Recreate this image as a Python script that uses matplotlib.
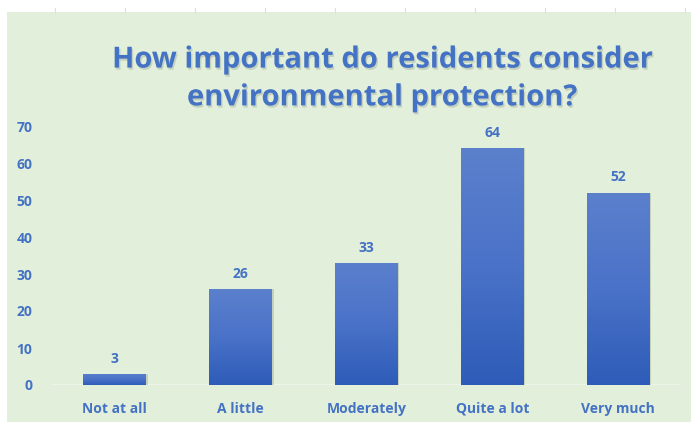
import matplotlib
matplotlib.use('Agg')
import matplotlib.pyplot as plt
import matplotlib.patheffects as pe
from matplotlib.colors import LinearSegmentedColormap
import numpy as np

categories = ['Not at all', 'A little', 'Moderately', 'Quite a lot', 'Very much']
responses = [3, 26, 33, 64, 52]
y_ticks = [0, 10, 20, 30, 40, 50, 60, 70]
title = 'How important do residents consider\nenvironmental protection?'

text_blue = '#4472c4'
panel_green = '#e2efda'

plt.rcParams['font.family'] = ['Open Sans', 'DejaVu Sans']

fig = plt.figure(figsize=(6.91, 4.22), dpi=100)
fig.patch.set_facecolor('white')

# green panel under the chart (white strip on top and left)
panel = plt.Rectangle((7 / 691, 0), 1, 1 - 12 / 422, transform=fig.transFigure,
                      facecolor=panel_green, edgecolor='none', zorder=-5)
fig.add_artist(panel)
# small ruler marks on the top strip
for px in range(55, 691, 70):
    fig.add_artist(plt.Line2D([px / 691, px / 691], [1 - 12 / 422, 1 - 8 / 422],
                              transform=fig.transFigure, color='#dddddd', lw=0.8))

ax = fig.add_axes([52 / 691, 37 / 422, 629 / 691, 259 / 422])
ax.set_facecolor('none')
ax.set_zorder(1)
x = np.arange(len(categories))

# faint gridlines
for t in y_ticks[1:]:
    ax.axhline(t, color='#e5f1df', lw=0.7, zorder=1)
ax.axhline(0, color='#f0f6ec', lw=1.2, zorder=1)

# gradient bars with a soft shadow
grad = np.linspace(0, 1, 256).reshape(-1, 1)
cmap = LinearSegmentedColormap.from_list('barblue', ['#2e5cb8', '#4a72c8', '#5b80cc'])
bars = ax.bar(x, responses, width=0.5, color='none', edgecolor='none', zorder=3)
for b in bars:
    x0, y0 = b.get_x(), b.get_y()
    w, h = b.get_width(), b.get_height()
    shadow = plt.Rectangle((x0 + 0.012, y0), w, h, facecolor='#7d8c7b', alpha=0.3,
                           edgecolor='none', zorder=2)
    ax.add_patch(shadow)
    im = ax.imshow(grad, extent=(x0, x0 + w, y0, y0 + h), origin='lower',
                   cmap=cmap, aspect='auto', zorder=3)
    im.set_clip_path(b)
ax.set_xlim(-0.5, len(categories) - 0.5)
ax.set_ylim(0, 70)

for xi, v in zip(x, responses):
    ax.text(xi, v + 2.2, str(v), ha='center', va='bottom', fontsize=10,
            fontweight='bold', color=text_blue, zorder=4)

ax.set_yticks(y_ticks)
ax.set_yticklabels([str(t) for t in y_ticks])
ax.set_xticks(x)
ax.set_xticklabels(categories)
ax.tick_params(axis='both', length=0, labelsize=10, labelcolor=text_blue)
ax.tick_params(axis='y', pad=14)
ax.tick_params(axis='x', pad=12)
for lbl in ax.get_xticklabels() + ax.get_yticklabels():
    lbl.set_fontweight('bold')
for s in ax.spines.values():
    s.set_visible(False)

fig.text(382 / 691, 1 - 79 / 422, title, ha='center', va='center', fontsize=21,
         fontweight='bold', color=text_blue, linespacing=1.4,
         path_effects=[pe.withSimplePatchShadow(offset=(1, -1.5), shadow_rgbFace='#8a9a8a',
                                                alpha=0.35)])

fig.savefig('out.png', dpi=100, facecolor=fig.get_facecolor())
